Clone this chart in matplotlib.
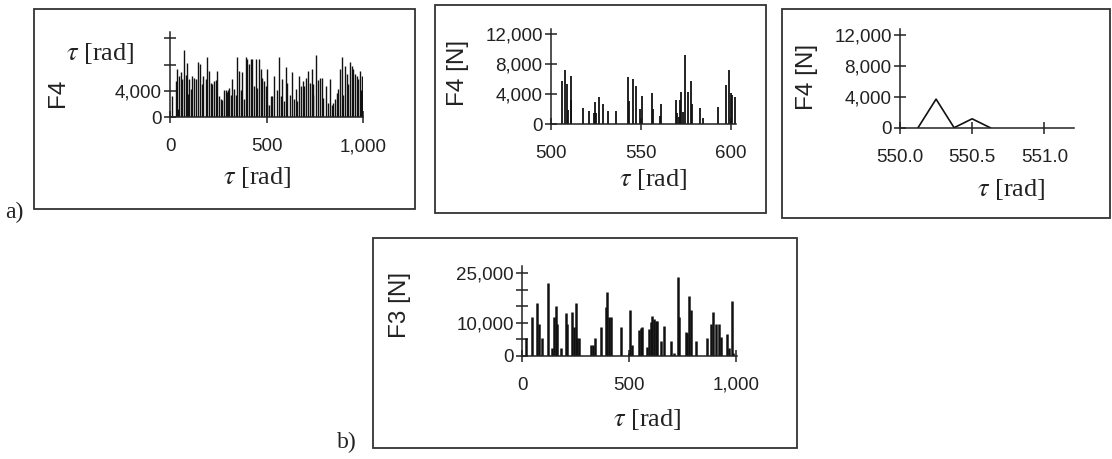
import matplotlib
matplotlib.use("Agg")
import matplotlib.pyplot as plt
from matplotlib.patches import Rectangle
from matplotlib.ticker import FuncFormatter

W, H = 1112, 459

# panel a, left: F4 over the full revolution range
a1_tau = [12, 29, 38, 42, 47, 55, 64, 73, 81, 90, 94, 98, 107, 116, 124, 133, 147, 155, 164, 173,
          185, 193, 202, 211, 219, 228, 237, 245, 254, 263, 271, 280, 289, 293, 297, 302, 306, 314,
          323, 333, 340, 349, 358, 366, 375, 383, 392, 401, 409, 418, 427, 435, 444, 452, 461, 470,
          478, 487, 496, 500, 504, 513, 522, 530, 540, 556, 565, 573, 582, 590, 599, 608, 622, 634,
          642, 651, 660, 670, 679, 688, 696, 705, 713, 725, 734, 740, 743, 755, 768, 777, 786, 794,
          807, 820, 829, 838, 846, 855, 864, 872, 881, 890, 898, 907, 915, 924, 933, 942, 950, 959,
          967, 976, 984, 988, 993, 1000]
a1_force = [3200, 5530, 7340, 1300, 6300, 6820, 5790, 10290, 6410, 8270, 3500, 5790, 4240, 6300,
            6050, 5790, 8480, 8120, 5010, 6300, 5790, 9150, 7080, 5270, 5010, 5530, 5690, 7080,
            3200, 2790, 2590, 4140, 4140, 3800, 3100, 4200, 4500, 3460, 5790, 4240, 3460, 9150,
            7080, 4140, 6820, 2790, 9150, 8890, 8120, 8790, 8790, 4760, 8790, 4500, 8790, 7340,
            6050, 5530, 4760, 2000, 7340, 1800, 3310, 3310, 6300, 4140, 9150, 3200, 5790, 2500,
            7600, 5270, 3460, 6820, 2800, 4240, 2500, 6300, 4760, 5530, 4760, 6050, 7080, 5170,
            7340, 3400, 5010, 9510, 5690, 5900, 6050, 2950, 4760, 2170, 5790, 1800, 2170, 2790,
            3720, 4240, 7340, 9150, 3460, 7750, 6560, 5010, 8480, 7860, 7340, 6560, 6300, 5790,
            7080, 4200, 6300, 5530]

# panel a, middle: zoom 500-600 rad
a2_tau = [506.1, 508.0, 508.8, 509.5, 511.0, 511.3, 517.7, 520.9, 523.7, 524.3, 525.0, 526.8,
          528.8, 531.6, 536.0, 543.0, 543.6, 545.7, 547.0, 549.7, 550.3, 556.2, 556.8, 560.6,
          561.0, 569.3, 570.0, 571.0, 571.7, 572.5, 573.6, 574.7, 576.3, 577.6, 578.4, 582.8,
          584.3, 592.8, 597.0, 599.1, 599.8, 600.7, 602.4]
a2_force = [5700, 7240, 5380, 1850, 3180, 6440, 2070, 1760, 1500, 2870, 1400, 3530, 2690, 1760,
            1760, 6260, 3040, 6000, 5030, 1940, 3790, 4100, 1940, 1060, 2690, 3180, 1400, 970,
            3180, 4240, 1630, 9130, 4240, 5690, 2690, 2070, 750, 2200, 5160, 7240, 4060, 3840, 3620]

# panel a, right: zoom 550-551 rad
a3_tau = [550.125, 550.25, 550.375, 550.5, 550.625]
a3_force = [0, 3700, 0, 1150, 0]

# panel b: F3
b_tau = [16, 47, 70, 78, 94, 122, 141, 148, 156, 164, 180, 203, 211, 234, 242, 250, 258, 266, 320,
         333, 341, 367, 392, 398, 406, 414, 461, 502, 505, 516, 547, 555, 562, 586, 594, 602, 609,
         617, 625, 633, 648, 664, 697, 711, 727, 734, 766, 773, 781, 789, 812, 867, 883, 895, 906,
         919, 930, 958, 966, 981, 989]
b_force = [5260, 11640, 15900, 9500, 5260, 21960, 2200, 11640, 15200, 9500, 2200, 13050, 9500,
           13360, 8800, 15900, 5260, 5260, 3240, 3240, 5260, 8800, 14880, 19430, 11640, 11640,
           8800, 900, 13870, 3240, 7800, 8300, 8800, 2700, 8000, 10300, 12040, 11030, 10630,
           10630, 4550, 9110, 4550, 910, 23790, 11640, 7290, 6780, 18120, 13870, 4550, 5260,
           9500, 13360, 9500, 9500, 5770, 6580, 2230, 16700, 900]

plt.rcParams['font.family'] = ['Liberation Sans', 'DejaVu Sans']
plt.rcParams['mathtext.fontset'] = 'stix'

fig = plt.figure(figsize=(W / 100, H / 100), dpi=100)
fig.patch.set_facecolor('white')

comma = FuncFormatter(lambda v, p: f"{v:,.0f}")


def px_axes(x0, x1, ytop, ybot):
    return fig.add_axes([x0 / W, 1 - ybot / H, (x1 - x0) / W, (ybot - ytop) / H])


def style(ax):
    for s in ['top', 'right']:
        ax.spines[s].set_visible(False)
    for s in ['left', 'bottom']:
        ax.spines[s].set_linewidth(1.1)
        ax.spines[s].set_color('#222222')
    ax.tick_params(direction='inout', length=8, width=1.1, labelsize=13.5,
                   colors='#222222', labelcolor='#222222')
    ax.tick_params(axis='x', pad=11)
    ax.tick_params(axis='y', pad=2)
    ax.tick_params(which='minor', direction='inout', length=8, width=1.1, colors='#222222')
    ax.patch.set_alpha(0)


def ftext(x, y, s, **kw):
    fig.text(x / W, 1 - y / H, s, ha='center', va='center', **kw)


def box(x0, y0, x1, y1):
    fig.add_artist(Rectangle((x0 / W, 1 - y1 / H), (x1 - x0) / W, (y1 - y0) / H,
                             transform=fig.transFigure, fill=False, lw=1.3, ec='#333333'))


tau_lbl = r'$\tau$ [rad]'
serif = dict(family='Liberation Serif', fontsize=19, color='#222222')
sans = dict(fontsize=17.5, color='#222222', rotation=90)

# panel a1
ax1 = px_axes(170, 363, 31.8, 117.3)
ax1.vlines(a1_tau, 0, a1_force, color='#111111', lw=1.0)
ax1.set_xlim(0, 1000)
ax1.set_ylim(0, 13000)
ax1.set_xticks([0, 500, 1000])
ax1.set_yticks([0, 4000, 8000, 12000])
ax1.set_yticklabels(['0', '4,000', '', ''])
ax1.xaxis.set_major_formatter(comma)
style(ax1)
ftext(257, 177, tau_lbl, **serif)
ftext(100, 53, tau_lbl, **serif)
ftext(58, 93, 'F4', **sans)
box(34, 9, 415, 209)

# panel a2
ax2 = px_axes(551, 736, 29.3, 124)
ax2.vlines(a2_tau, 0, a2_force, color='#111111', lw=1.3)
ax2.set_xlim(500, 602.8)
ax2.set_ylim(0, 12600)
ax2.set_xticks([500, 550, 600])
ax2.set_yticks([0, 4000, 8000, 12000])
ax2.yaxis.set_major_formatter(comma)
style(ax2)
ftext(653, 180, tau_lbl, **serif)
ftext(458, 73, 'F4 [N]', **sans)
box(435, 5, 766, 213)

# panel a3
ax3 = px_axes(900, 1074, 29.3, 127.7)
ax3.plot(a3_tau, a3_force, color='#111111', lw=1.2)
ax3.set_xlim(550.0, 551.206)
ax3.set_ylim(0, 12740)
ax3.set_xticks([550.0, 550.5, 551.0])
ax3.set_xticklabels(['550.0', '550.5', '551.0'])
ax3.set_yticks([0, 4000, 8000, 12000])
ax3.yaxis.set_major_formatter(comma)
style(ax3)
ftext(1011, 190, tau_lbl, **serif)
ftext(807, 77, 'F4 [N]', **sans)
box(782, 9, 1110, 218)

# panel b
axb = px_axes(522.3, 737.3, 266, 355.7)
axb.vlines(b_tau, 0, b_force, color='#111111', lw=1.8)
axb.set_xlim(0, 1007)
axb.set_ylim(0, 27200)
axb.set_xticks([0, 500, 1000])
axb.xaxis.set_major_formatter(comma)
axb.set_yticks([0, 10000, 25000])
axb.set_yticks([5000, 15000, 20000], minor=True)
axb.yaxis.set_major_formatter(comma)
style(axb)
ftext(647, 420, tau_lbl, **serif)
ftext(400, 305, 'F3 [N]', **sans)
box(373, 238, 797, 448)

ftext(14, 212, 'a)', family='Liberation Serif', fontsize=17, color='#222222')
ftext(347, 442, 'b)', family='Liberation Serif', fontsize=17, color='#222222')

fig.savefig('out.png', dpi=100, facecolor='white')
